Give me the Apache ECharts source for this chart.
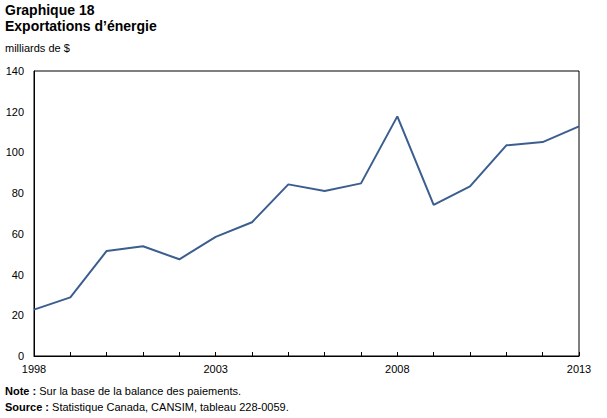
<!DOCTYPE html>
<html>
<head>
<meta charset="utf-8">
<script src="https://cdn.jsdelivr.net/npm/echarts@6/dist/echarts.min.js"></script>
<style>
  html, body { margin: 0; padding: 0; background: #fff; }
  #chart { width: 607px; height: 418px; }
</style>
</head>
<body>
<div id="chart"></div>
<script>
var years = ['1998', '1999', '2000', '2001', '2002', '2003', '2004', '2005',
  '2006', '2007', '2008', '2009', '2010', '2011', '2012', '2013'];
// milliards de $
var exports = [22.8, 28.8, 51.6, 53.9, 47.5, 58.5, 65.7, 84.3,
  81.1, 84.8, 117.7, 74.2, 83.3, 103.5, 105.1, 112.8];
var yTicks = [0, 20, 40, 60, 80, 100, 120, 140];

var myChart = echarts.init(document.getElementById('chart'), null, { renderer: 'svg' });
var font = 'Liberation Sans, Arial, sans-serif';

myChart.setOption({
  animation: false,
  textStyle: { fontFamily: font },
  graphic: [
    { type: 'text', left: 5, top: 3, style: { text: 'Graphique 18', font: 'bold 14px ' + font, fill: '#000' } },
    { type: 'text', left: 5, top: 19, style: { text: 'Exportations d\u2019énergie', font: 'bold 14px ' + font, fill: '#000' } },
    { type: 'text', left: 5, top: 42, style: { text: 'milliards de $', font: '11px ' + font, fill: '#000' } },
    {
      type: 'text', left: 5, top: 385,
      style: {
        text: '{b|Note :} Sur la base de la balance des paiements.',
        font: '11px ' + font, fill: '#000',
        rich: { b: { fontWeight: 'bold', fontSize: 11, fontFamily: font } }
      }
    },
    {
      type: 'text', left: 5, top: 401,
      style: {
        text: '{b|Source :} Statistique Canada, CANSIM, tableau 228-0059.',
        font: '11px ' + font, fill: '#000',
        rich: { b: { fontWeight: 'bold', fontSize: 11, fontFamily: font } }
      }
    }
  ],
  grid: {
    left: 34, right: 28, top: 71, bottom: 62,
    show: true, borderColor: '#000', borderWidth: 1, backgroundColor: '#fff'
  },
  xAxis: {
    type: 'category',
    data: years,
    boundaryGap: false,
    axisLine: { lineStyle: { color: '#000', width: 1 } },
    axisTick: { inside: true, length: 4, interval: 0, lineStyle: { color: '#000' } },
    axisLabel: { interval: 4, color: '#000', fontSize: 11, margin: 7, fontFamily: font }
  },
  yAxis: {
    type: 'value',
    min: yTicks[0],
    max: yTicks[yTicks.length - 1],
    interval: 20,
    splitLine: { show: false },
    axisLine: { show: true, lineStyle: { color: '#000' } },
    axisTick: { show: false },
    axisLabel: { color: '#000', fontSize: 11, margin: 10, fontFamily: font }
  },
  series: [
    {
      type: 'line',
      data: exports,
      showSymbol: false,
      lineStyle: { color: '#3b5e8f', width: 2 },
      itemStyle: { color: '#3b5e8f' }
    }
  ]
});
</script>
</body>
</html>
